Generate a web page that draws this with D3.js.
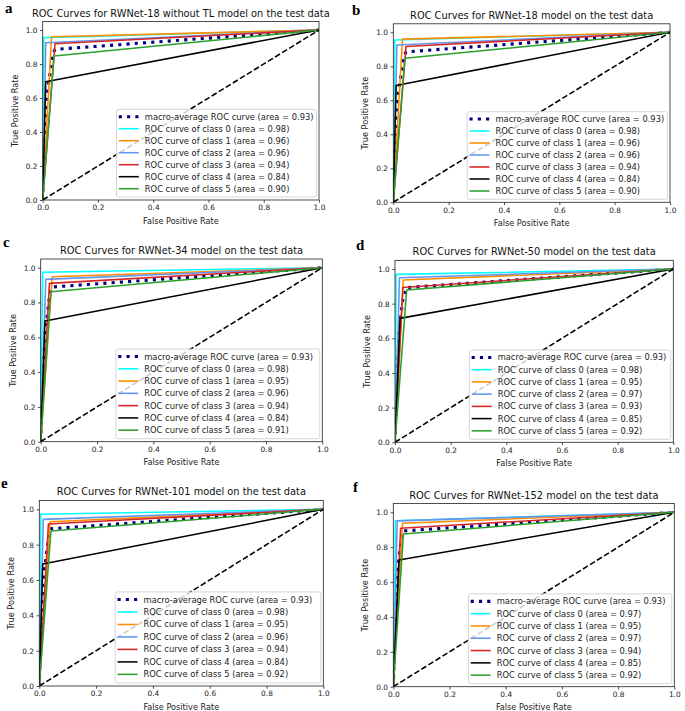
<!DOCTYPE html>
<html><head><meta charset="utf-8">
<script src="https://cdn.jsdelivr.net/npm/d3@7"></script>
<style>body{margin:0;background:#fff} svg{display:block}</style>
</head><body><svg id="chart" width="685" height="711"></svg>
<script>
// ---------------- DATA ----------------
const panelLetters = ["a","b","c","d","e","f"];
const panelTitles = [
  "ROC Curves for RWNet-18 without TL model on the test data",
  "ROC Curves for RWNet-18 model on the test data",
  "ROC Curves for RWNet-34 model on the test data",
  "ROC Curves for RWNet-50 model on the test data",
  "ROC Curves for RWNet-101 model on the test data",
  "ROC Curves for RWNet-152 model on the test data"
];
const classNames = ["class 0","class 1","class 2","class 3","class 4","class 5"];
const classColors = ["#00ffff","#ff8c00","#6495ed","#d62728","#000000","#2ca02c"];
const macroAUC = [0.93,0.93,0.93,0.93,0.93,0.93];
const classAUC = [
  [0.98,0.96,0.96,0.94,0.84,0.90],
  [0.98,0.96,0.96,0.94,0.84,0.90],
  [0.98,0.95,0.96,0.94,0.84,0.91],
  [0.98,0.95,0.97,0.93,0.85,0.92],
  [0.98,0.95,0.96,0.94,0.84,0.92],
  [0.97,0.95,0.97,0.94,0.85,0.92]
];
// single operating point of each class curve: (0,0) -> (fpr,tpr) -> (1,1)
const classFpr = [
  [0.004,0.032,0.011,0.0445,0.011,0.041],
  [0.005,0.033,0.013,0.046,0.010,0.042],
  [0.007,0.041,0.018,0.031,0.015,0.036],
  [0.004,0.030,0.016,0.028,0.018,0.042],
  [0.005,0.038,0.014,0.032,0.012,0.041],
  [0.008,0.033,0.014,0.026,0.020,0.036]
];
const classTpr = [
  [0.955,0.960,0.925,0.919,0.696,0.847],
  [0.955,0.960,0.925,0.917,0.687,0.847],
  [0.974,0.948,0.933,0.910,0.694,0.862],
  [0.969,0.937,0.950,0.893,0.715,0.879],
  [0.972,0.930,0.943,0.917,0.690,0.877],
  [0.952,0.937,0.951,0.909,0.727,0.876]
];
const macroFpr = [
  [0,0.004,0.011,0.032,0.041,0.0445,1],
  [0,0.005,0.010,0.013,0.033,0.042,0.046,1],
  [0,0.007,0.015,0.018,0.031,0.036,0.041,1],
  [0,0.004,0.016,0.018,0.028,0.030,0.042,1],
  [0,0.005,0.012,0.014,0.032,0.038,0.041,1],
  [0,0.008,0.014,0.020,0.026,0.033,0.036,1]
];
const macroTpr = [
  [0,0.305,0.560,0.811,0.874,0.886,1],
  [0,0.333,0.508,0.578,0.810,0.871,0.885,1],
  [0,0.366,0.599,0.663,0.830,0.869,0.889,1],
  [0,0.284,0.650,0.691,0.822,0.830,0.893,1],
  [0,0.328,0.561,0.608,0.833,0.879,0.890,1],
  [0,0.415,0.607,0.731,0.819,0.881,0.893,1]
];
const tickValues = [0,0.2,0.4,0.6,0.8,1.0];

// ---------------- LAYOUT ----------------
const layout = [
  {left:42.7, right:319.0, y0:200.0, y1:30.0,  lx:5,   ly:13},
  {left:393.3,right:670.0, y0:202.3, y1:32.3,  lx:352, ly:15},
  {left:40.7, right:322.3, y0:441.7, y1:267.7, lx:3,   ly:247},
  {left:395.0,right:673.3, y0:442.3, y1:269.0, lx:356, ly:250},
  {left:39.3, right:323.3, y0:686.0, y1:509.3, lx:1,   ly:488},
  {left:393.3,right:674.3, y0:686.7, y1:512.3, lx:353, ly:492}
];
const FONT = "'DejaVu Sans', sans-serif";
const svg = d3.select("#chart");
const pt = 0.78; // pt -> px scale

// fit font sizes to the widths measured in the reference
function fitSize(str, target) {
  const t = svg.append("text").attr("font-family", FONT).attr("font-size", 10).text(str);
  const w = t.node().getComputedTextLength();
  t.remove();
  return 10 * target / w;
}
const titleSize = fitSize(panelTitles[0], 298);
const legendSize = fitSize("macro-average ROC curve (area = 0.93)", 169);
const labelSize = fitSize("False Positive Rate", 76);
const tickSize = fitSize("0.0", 11.8);

layout.forEach((L, p) => {
  const x = d3.scaleLinear().domain([0,1]).range([L.left, L.right]);
  const y = d3.scaleLinear().domain([0,1]).range([L.y0, L.y1]);
  const top = y(1.05);
  const g = svg.append("g");
  const clipId = "clip" + p;
  g.append("clipPath").attr("id", clipId).append("rect")
    .attr("x", L.left).attr("y", top).attr("width", L.right - L.left).attr("height", L.y0 - top);

  const line = d3.line().x(d => x(d[0])).y(d => y(d[1]));
  const plot = g.append("g").attr("clip-path", `url(#${clipId})`);

  // macro-average
  const mpts = macroFpr[p].map((f, i) => [f, macroTpr[p][i]]);
  plot.append("path").attr("d", line(mpts)).attr("fill","none")
    .attr("stroke","navy").attr("stroke-width", 4*pt)
    .attr("stroke-dasharray", `${4*pt},${6.6*pt}`);

  // classes
  classNames.forEach((c, i) => {
    const pts = [[0,0],[classFpr[p][i], classTpr[p][i]],[1,1]];
    plot.append("path").attr("d", line(pts)).attr("fill","none")
      .attr("stroke", classColors[i]).attr("stroke-width", 2*pt)
      .attr("stroke-linejoin","round");
  });

  // diagonal
  plot.append("path").attr("d", line([[0,0],[1,1]])).attr("fill","none")
    .attr("stroke","black").attr("stroke-width", 2*pt)
    .attr("stroke-dasharray", `${7.4*pt},${3.2*pt}`);

  // spines
  g.append("rect").attr("x", L.left).attr("y", top)
    .attr("width", L.right - L.left).attr("height", L.y0 - top)
    .attr("fill","none").attr("stroke","#222").attr("stroke-width", 0.8);

  // axes
  const xAxis = d3.axisBottom(x).tickValues(tickValues).tickFormat(d3.format(".1f"))
    .tickSize(3.5*pt).tickPadding(2.5);
  const yAxis = d3.axisLeft(y).tickValues(tickValues).tickFormat(d3.format(".1f"))
    .tickSize(3.5*pt).tickPadding(2.5);
  const gx = g.append("g").attr("transform", `translate(0,${L.y0})`).call(xAxis);
  const gy = g.append("g").attr("transform", `translate(${L.left},0)`).call(yAxis);
  [gx, gy].forEach(a => {
    a.select(".domain").remove();
    a.selectAll("line").attr("stroke","#222").attr("stroke-width",0.8);
    a.selectAll("text").attr("font-family", FONT).attr("font-size", tickSize).attr("fill","#222");
  });

  // axis labels
  g.append("text").attr("x", (L.left + L.right)/2).attr("y", L.y0 + 20.5)
    .attr("text-anchor","middle").attr("dominant-baseline","central")
    .attr("font-family", FONT).attr("font-size", labelSize).attr("fill","#222")
    .text("False Positive Rate");
  g.append("text")
    .attr("transform", `translate(${L.left - 28},${(L.y0 + top)/2}) rotate(-90)`)
    .attr("text-anchor","middle").attr("dominant-baseline","central")
    .attr("font-family", FONT).attr("font-size", labelSize).attr("fill","#222")
    .text("True Positive Rate");

  // title
  g.append("text").attr("x", (L.left + L.right)/2).attr("y", top - 5)
    .attr("text-anchor","middle").attr("font-family", FONT).attr("font-size", titleSize)
    .attr("fill","#111").text(panelTitles[p]);

  // panel letter
  g.append("text").attr("x", L.lx).attr("y", L.ly)
    .attr("font-family","'Liberation Serif', 'DejaVu Serif', serif")
    .attr("font-weight","bold").attr("font-size", 15).attr("fill","#000")
    .text(panelLetters[p]);

  // legend
  const sy = (L.y0 - L.y1) / 170, sx = (L.right - L.left) / 276.3;
  const rowH = 12 * sy, padT = 7.3 * sy, padB = 8.3 * sy;
  const lw = 200 * sx, lh = padT + 6*rowH + padB;
  const lxr = L.right - 2.5, lyb = L.y0 - 3;
  const bx = lxr - lw, by = lyb - lh;
  const lg = g.append("g");
  lg.append("rect").attr("x", bx).attr("y", by).attr("width", lw).attr("height", lh)
    .attr("rx", 2).attr("fill","white").attr("fill-opacity",0.8)
    .attr("stroke","#cccccc").attr("stroke-width",0.8);
  const entries = [{label:`macro-average ROC curve (area = ${macroAUC[p].toFixed(2)})`, color:"navy", macro:true}]
    .concat(classNames.map((c,i) => ({label:`ROC curve of ${c} (area = ${classAUC[p][i].toFixed(2)})`, color:classColors[i]})));
  entries.forEach((e, i) => {
    const cy = by + padT + i*rowH;
    const h = lg.append("line").attr("x1", bx + 2.3).attr("x2", bx + 22.3)
      .attr("y1", cy).attr("y2", cy).attr("stroke", e.color);
    if (e.macro) h.attr("stroke-width", 4*pt).attr("stroke-dasharray", `${4*pt},${6.6*pt}`);
    else h.attr("stroke-width", 2*pt);
    lg.append("text").attr("x", bx + 28.3).attr("y", cy)
      .attr("dominant-baseline","central").attr("font-family", FONT)
      .attr("font-size", legendSize).attr("fill","#222").text(e.label);
  });
});
</script>
</body></html>
